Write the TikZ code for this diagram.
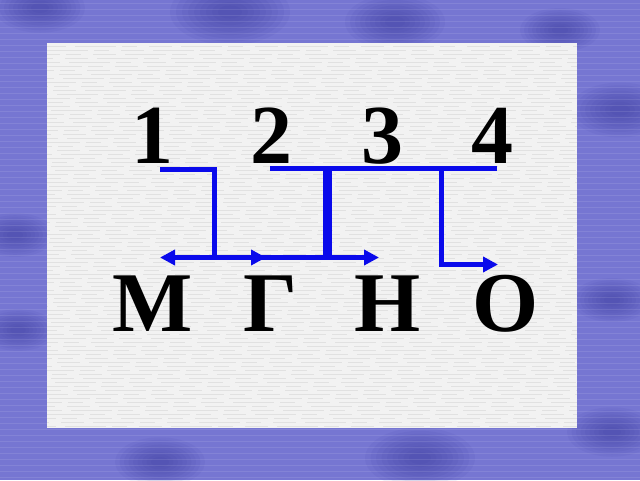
\documentclass[tikz,border=0pt]{standalone}
\usepackage{fontspec}
\setmainfont{Liberation Serif}
\usetikzlibrary{arrows.meta}
\definecolor{frameblue}{RGB}{118,118,210}
\definecolor{blotch}{RGB}{55,55,155}
\definecolor{panel}{RGB}{242,242,242}
\definecolor{streak}{RGB}{205,205,205}
\definecolor{wire}{RGB}{10,10,235}
\tikzset{
  digit/.style={anchor=base, inner sep=0pt, font=\fontsize{84}{90}\selectfont\bfseries},
  letter/.style={anchor=base, inner sep=0pt, font=\fontsize{85}{90}\selectfont\bfseries},
  wireline/.style={draw=wire, line width=5pt},
  thickwire/.style={draw=wire, line width=9pt},
  tip/.style={-{Triangle[length=15pt,width=15pt]}},
}
\newcommand{\blot}[3]{%
  \foreach \k in {1.0,0.9,...,0.15}{
    \fill[blotch, opacity=0.07] (#1,#2) ellipse[x radius=#3*\k, y radius=0.55*#3*\k];
  }}
\begin{document}
\begin{tikzpicture}[x=1pt,y=-1pt]
\useasboundingbox (0,0) rectangle (640,480);
% frame
\fill[frameblue] (0,0) rectangle (640,480);
\blot{230}{12}{60}
\blot{395}{22}{50}
\blot{40}{8}{45}
\blot{620}{110}{50}
\blot{15}{235}{40}
\blot{18}{330}{38}
\blot{612}{300}{40}
\blot{612}{432}{45}
\blot{420}{458}{55}
\blot{160}{462}{45}
\blot{560}{30}{40}
% streaks on frame
\foreach \y in {3,9,...,480}{
  \draw[white, opacity=0.10, line width=1pt] (0,\y) -- (640,\y);
}
% panel
\fill[panel] (47,43) rectangle (577,428);
\foreach \y in {46,50,...,426}{
  \draw[streak, opacity=0.45, line width=0.8pt, dash pattern=on 23pt off 9pt on 41pt off 6pt on 15pt off 12pt, dash phase=\y*7] (47,\y) -- (577,\y);
}
% digits
\node[digit] (n1) at (152,163) {1};
\node[digit] (n2) at (271,163) {2};
\node[digit] (n3) at (382,163) {3};
\node[digit] (n4) at (492,163) {4};
% letters
\node[letter] (m) at (153,331) {М};
\node[letter] (g) at (271,331) {Г};
\node[letter] (h) at (388,331) {Н};
\node[letter] (o) at (506,331) {О};
% wiring coordinates
\coordinate (a1) at (160,169.5);
\coordinate (b1) at (214.5,169.5);
\coordinate (c1) at (214.5,257.5);
\coordinate (mt) at (160,257.5);
\coordinate (gt) at (266,257.5);
\coordinate (gs) at (250,257.5);
\coordinate (ht) at (379,257.5);
\coordinate (a2) at (270,168.5);
\coordinate (e2) at (497,168.5);
\coordinate (v3t) at (327,168.5);
\coordinate (v3b) at (327,257.5);
\coordinate (v4t) at (441.5,168.5);
\coordinate (v4b) at (441.5,264.5);
\coordinate (ot) at (498,264.5);
% connectors
\draw[wireline, line join=miter] (a1) -- (b1) -- (c1);
\draw[wireline, tip] (c1) -- (mt);
\draw[wireline, tip] (c1) -- (gt);
\draw[wireline, tip] (gs) -- (ht);
\draw[wireline] (a2) -- (e2);
\draw[thickwire] (v3t) -- (v3b);
\draw[wireline, tip, line join=miter] (v4t) -- (v4b) -- (ot);
\end{tikzpicture}
\end{document}
